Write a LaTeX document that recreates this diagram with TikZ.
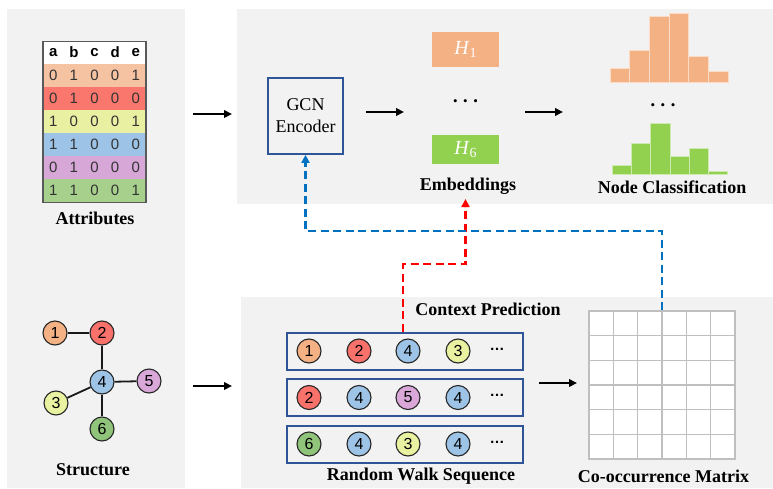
\documentclass[tikz,border=0pt]{standalone}
\usepackage{fontspec}
\setmainfont{Liberation Serif}
\setsansfont{Liberation Sans}
\usetikzlibrary{arrows.meta}

\definecolor{panelgray}{HTML}{F2F2F2}
\definecolor{frameblue}{HTML}{2F5597}
\definecolor{linkblue}{HTML}{0070C0}
\definecolor{linkred}{HTML}{FF0000}
\definecolor{gridgray}{HTML}{BFBFBF}
\definecolor{tblframe}{HTML}{595959}
% row / node colours
\definecolor{cA}{HTML}{F6C3A2}
\definecolor{cB}{HTML}{F9776D}
\definecolor{cC}{HTML}{E9F0A2}
\definecolor{cD}{HTML}{9DC3E6}
\definecolor{cE}{HTML}{D7A7D7}
\definecolor{cF}{HTML}{A8D08D}
\definecolor{gA}{HTML}{F4B183}
\definecolor{gB}{HTML}{F8716A}
\definecolor{gC}{HTML}{E8F2A1}
\definecolor{gD}{HTML}{9DC3E6}
\definecolor{gE}{HTML}{D9A8D9}
\definecolor{gF}{HTML}{8FC47A}
\definecolor{historange}{HTML}{F4B183}
\definecolor{histgreen}{HTML}{92D050}

% three heavy dots, as used between the embeddings and the histograms
\newcommand{\bigdots}{\char"2022\hspace{5.5pt}\char"2022\hspace{5.5pt}\char"2022}
% embedding name: italic H with an upright subscript digit
\newcommand{\embname}[1]{\textit{H}\raisebox{-3.5pt}{\fontsize{14}{14}\selectfont #1}}

\begin{document}
\begin{tikzpicture}[x=1pt,y=-1pt,
  panel/.style={fill=panelgray, draw=none, inner sep=0pt, outer sep=0pt},
  lbl/.style={font=\fontsize{18}{22}\selectfont\bfseries, inner sep=1pt},
  cell/.style={font=\sffamily\fontsize{15}{15}\selectfont, text=black!80, inner sep=0pt},
  hcell/.style={font=\sffamily\bfseries\fontsize{15}{15}\selectfont, inner sep=0pt},
  rowbox/.style={rectangle, minimum width=103pt, minimum height=23pt, inner sep=0pt, draw=none},
  gnode/.style={circle, draw=black!85, line width=1.1pt, minimum size=24pt, inner sep=0pt,
                font=\sffamily\fontsize{16}{16}\selectfont},
  arr/.style={-{Triangle[length=8pt,width=7.5pt]}, line width=2.3pt, black},
  seqbox/.style={rectangle, draw=frameblue, line width=2pt, minimum width=236pt,
                 minimum height=37pt, inner sep=0pt},
  hbox/.style={rectangle, minimum width=67pt, inner sep=0pt, text=white,
               font=\fontsize{20}{20}\selectfont},
  dashlink/.style={line width=2.6pt, dash pattern=on 8pt off 4.5pt,
                   -{Triangle[length=8pt,width=8pt]}},
  dotsA/.style={font=\fontsize{13}{13}\selectfont, inner sep=0pt},
  dotsB/.style={font=\sffamily\bfseries\fontsize{15}{15}\selectfont, inner sep=0pt},
]
\useasboundingbox (0,0) rectangle (773,489);

% ---------- background panels ----------
\node[panel, minimum width=178pt, minimum height=479pt] (leftpanel) at (96,248.5) {};
\node[panel, minimum width=536pt, minimum height=195pt] (toppanel) at (505,106.5) {};
\node[panel, minimum width=532pt, minimum height=191pt] (botpanel) at (507,392.5) {};

% ---------- attribute table ----------
\node[rowbox, fill=white] (hdr) at (94.5,52.5) {};
\foreach \c [count=\k from 0] in {a,b,c,d,e}
  \node[hcell] (h\c) at (53.3+20.6*\k,52.5) {\c};
\foreach \col/\vals [count=\r from 0] in {
    cA/{0,1,0,0,1}, cB/{0,1,0,0,0}, cC/{1,0,0,0,1},
    cD/{1,1,0,0,0}, cE/{0,1,0,0,0}, cF/{1,1,0,0,1}} {
  \node[rowbox, fill=\col] (row\r) at (94.5,75.5+23*\r) {};
  \foreach \v [count=\k from 0] in \vals
    \node[cell] (v\r-\k) at (53.3+20.6*\k,75.5+23*\r) {\v};
}
\node[rectangle, draw=tblframe, line width=1.4pt, minimum width=103pt, minimum height=161pt,
      inner sep=0pt] (tbl) at (94.5,122) {};
\node[lbl] (attrlbl) at (95,218) {Attributes};

% ---------- graph structure ----------
\node[gnode, fill=gA] (s1) at (55,333) {1};
\node[gnode, fill=gB] (s2) at (102,333) {2};
\node[gnode, fill=gD] (s4) at (102,382) {4};
\node[gnode, fill=gE] (s5) at (149,381) {5};
\node[gnode, fill=gC] (s3) at (56,403) {3};
\node[gnode, fill=gF] (s6) at (102,429) {6};
\begin{scope}[line width=1.8pt, black!90]
  \draw (s1) -- (s2);
  \draw (s2) -- (s4);
  \draw (s4) -- (s5);
  \draw (s4) -- (s3);
  \draw (s4) -- (s6);
\end{scope}
\node[lbl] (structlbl) at (93,470) {Structure};

% ---------- encoder and embeddings ----------
\node[rectangle, draw=frameblue, line width=1.8pt, minimum width=75pt, minimum height=76pt,
      inner sep=0pt, align=center, font=\fontsize{18}{22}\selectfont] (gcn) at (305.5,116)
      {GCN\\Encoder};
\node[hbox, fill=gA, minimum height=35pt] (H1) at (465.5,49.5) {\embname{1}};
\node[dotsA] (edots) at (465.5,103) {\bigdots};
\node[hbox, fill=histgreen, minimum height=29pt] (H6) at (465.5,149.5) {\embname{6}};
\node[lbl] (emblbl) at (468,186) {Embeddings};

% ---------- node classification histograms ----------
\foreach \t [count=\k from 0] in {68,50,16,13,56,71}
  \draw[fill=historange, draw=historange!45, line width=0.8pt]
    (610+19.7*\k,82) rectangle (610+19.7*\k+19.7,\t);
\node[dotsA] (hdots) at (663,107) {\bigdots};
\foreach \t [count=\k from 0] in {165,143,123,156,148,171}
  \draw[fill=histgreen, draw=histgreen!45, line width=0.8pt]
    (612+19.3*\k,174) rectangle (612+19.3*\k+19.3,\t);
\node[lbl] (clslbl) at (672,187) {Node Classification};

% ---------- random walk sequences ----------
\node[lbl] (ctxlbl) at (488,309) {Context Prediction};
\foreach \seq/\yy [count=\r] in {{gA/1,gB/2,gD/4,gC/3}/351,
                                 {gB/2,gD/4,gE/5,gD/4}/397.5,
                                 {gF/6,gD/4,gC/3,gD/4}/444} {
  \node[seqbox] (seq\r) at (405,\yy) {};
  \foreach \fc/\num [count=\k from 0] in \seq
    \node[gnode, fill=\fc] (w\r-\k) at ({309+50*\k-(\k>1?1:0)},\yy) {\num};
  \node[dotsB] (wdots\r) at (497,\yy-2) {\char"2026};
}
\node[lbl] (rwlbl) at (421,476) {Random Walk Sequence};

% ---------- co-occurrence matrix ----------
\node[rectangle, fill=white, draw=gridgray, line width=1.2pt, minimum width=146pt,
      minimum height=148pt, inner sep=0pt] (cooc) at (662,385) {};
\foreach \i in {1,...,5} {
  \draw[gridgray, line width=1.2pt] (589+146/6*\i,311) -- (589+146/6*\i,459);
  \draw[gridgray, line width=1.2pt] (589,311+148/6*\i) -- (735,311+148/6*\i);
}
\node[lbl] (cooclbl) at (663.5,476) {Co-occurrence Matrix};

% ---------- flow arrows ----------
\coordinate (a1s) at (193,114);  \coordinate (a1e) at (232,114);
\coordinate (a2s) at (366,112);  \coordinate (a2e) at (404,112);
\coordinate (a3s) at (525,112);  \coordinate (a3e) at (563,112);
\coordinate (a4s) at (193,386);  \coordinate (a4e) at (232,386);
\coordinate (a5s) at (539,383);  \coordinate (a5e) at (577,383);
\draw[arr] (a1s) -- (a1e);
\draw[arr] (a2s) -- (a2e);
\draw[arr] (a3s) -- (a3e);
\draw[arr] (a4s) -- (a4e);
\draw[arr] (a5s) -- (a5e);

% ---------- dashed feedback links ----------
\coordinate (redup) at (403,264);
\coordinate (redtip) at (465.5,199);
\draw[dashlink, linkred] (seq1.north -| redup) -- (redup) -| (redtip);
\coordinate (bluebend) at (662,231);
\draw[dashlink, linkblue] (cooc.north) -- (bluebend) -| (gcn.south);
\end{tikzpicture}
\end{document}
